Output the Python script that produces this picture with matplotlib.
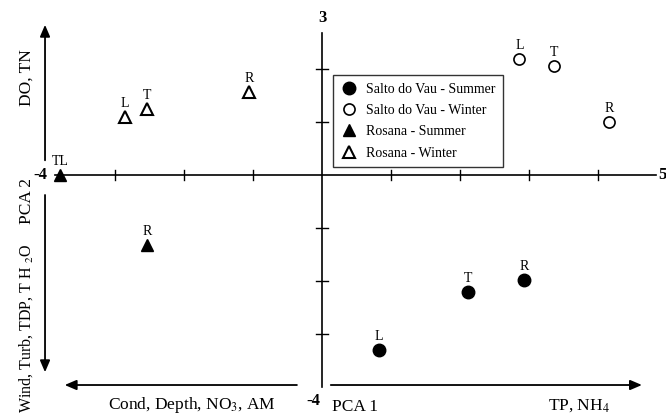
import matplotlib.pyplot as plt

plt.rcParams['font.family'] = ['Liberation Serif', 'DejaVu Serif']
plt.rcParams['mathtext.fontset'] = 'stix'

# Site labels and PCA scores
sv_summer_lab = ["L", "T", "R"]
sv_summer_x = [0.83, 2.12, 2.93]
sv_summer_y = [-3.30, -2.21, -1.98]

sv_winter_lab = ["L", "T", "R"]
sv_winter_x = [2.86, 3.36, 4.16]
sv_winter_y = [2.19, 2.06, 1.00]

ro_summer_lab = ["TL", "R"]
ro_summer_x = [-3.80, -2.54]
ro_summer_y = [0.0, -1.32]

ro_winter_lab = ["L", "T", "R"]
ro_winter_x = [-2.86, -2.54, -1.06]
ro_winter_y = [1.09, 1.25, 1.57]

xticks = [-3, -2, -1, 1, 2, 3, 4]
yticks = [-3, -2, -1, 1, 2]

fig = plt.figure(figsize=(6.66, 4.16), dpi=100)
ax = fig.add_axes([0, 0, 1, 1])
ax.set_xlim(-4.667, 4.986)
ax.set_ylim(-4.547, 3.302)
ax.axis("off")

# axes through the origin
ax.plot([-3.87, 4.84], [0, 0], color="black", lw=1.2)
ax.plot([0, 0], [-4.0, 2.68], color="black", lw=1.2)
for t in xticks:
    ax.plot([t, t], [-0.09, 0.09], color="black", lw=1.0)
for t in yticks:
    ax.plot([-0.09, 0.09], [t, t], color="black", lw=1.0)

ax.text(0.06, 0.579, "-4", transform=ax.transAxes, ha="center", va="center",
        fontsize=12, fontweight="bold")
ax.text(0.988, 0.579, "5", transform=ax.transAxes, ha="left", va="center",
        fontsize=12, fontweight="bold")
ax.text(0.4835, 0.957, "3", transform=ax.transAxes, ha="center", va="center",
        fontsize=12, fontweight="bold")
ax.text(0.471, 0.037, "-4", transform=ax.transAxes, ha="center", va="center",
        fontsize=12, fontweight="bold")

# series
l1, = ax.plot(sv_summer_x, sv_summer_y, "o", ms=9, color="black", ls="none",
              label="Salto do Vau - Summer")
l2, = ax.plot(sv_winter_x, sv_winter_y, "o", ms=8, mfc="white", mec="black",
              mew=1.2, ls="none", label="Salto do Vau - Winter")
l3, = ax.plot(ro_summer_x, ro_summer_y, "^", ms=8, color="black", ls="none",
              label="Rosana - Summer")
l4, = ax.plot(ro_winter_x, ro_winter_y, "^", ms=8, mfc="white", mec="black",
              mew=1.5, ls="none", label="Rosana - Winter")

for labs, xs, ys in [(sv_summer_lab, sv_summer_x, sv_summer_y),
                     (sv_winter_lab, sv_winter_x, sv_winter_y),
                     (ro_summer_lab, ro_summer_x, ro_summer_y),
                     (ro_winter_lab, ro_winter_x, ro_winter_y)]:
    for lab, x, y in zip(labs, xs, ys):
        ax.annotate(lab, (x, y), xytext=(0, 5), textcoords="offset points",
                    ha="center", va="bottom", fontsize=10)

leg = ax.legend(handles=[l1, l2, l3, l4], loc="upper left",
                bbox_to_anchor=(0.5, 0.82), borderaxespad=0, fontsize=10,
                frameon=True, fancybox=False, edgecolor="black",
                handletextpad=0.6, borderpad=0.55, labelspacing=0.6,
                handlelength=1.2)
leg.get_frame().set_linewidth(1.0)

# side arrows describing the components
arr = dict(arrowstyle="-|>,head_length=0.7,head_width=0.3", color="black", lw=1.3)
ax.annotate("", xy=(0.0676, 0.947), xytext=(0.0676, 0.608),
            xycoords="axes fraction", arrowprops=arr)
ax.annotate("", xy=(0.0676, 0.0986), xytext=(0.0676, 0.538),
            xycoords="axes fraction", arrowprops=arr)
ax.annotate("", xy=(0.093, 0.0745), xytext=(0.450, 0.0745),
            xycoords="axes fraction", arrowprops=arr)
ax.annotate("", xy=(0.968, 0.0745), xytext=(0.4925, 0.0745),
            xycoords="axes fraction", arrowprops=arr)

fs = 12.5
ax.text(0.040, 0.8125, "DO, TN", transform=ax.transAxes, rotation=90,
        ha="center", va="center", fontsize=fs)
ax.text(0.040, 0.517, "PCA 2", transform=ax.transAxes, rotation=90,
        ha="center", va="center", fontsize=fs)
ax.text(0.040, 0.007, "Wind, Turb, TDP, T H $_2$O", transform=ax.transAxes,
        rotation=90, ha="center", va="bottom", fontsize=11.5)
ax.text(0.288, 0.026, "Cond, Depth, NO$_3$, AM", transform=ax.transAxes,
        ha="center", va="center", fontsize=fs)
ax.text(0.869, 0.026, "TP, NH$_4$", transform=ax.transAxes,
        ha="center", va="center", fontsize=fs)
ax.text(0.533, 0.003, "PCA 1", transform=ax.transAxes,
        ha="center", va="bottom", fontsize=fs)

fig.savefig("out.png", dpi=100)
